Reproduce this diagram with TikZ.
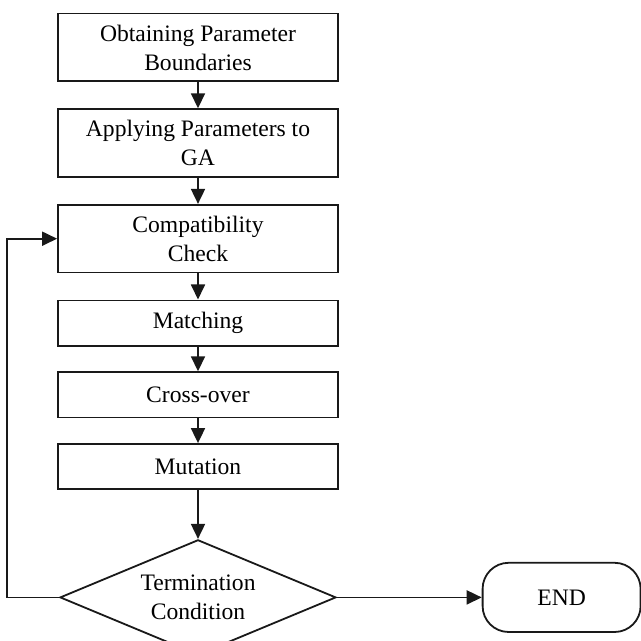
\documentclass[tikz,border=0pt]{standalone}
\usepackage{fontspec}
\setmainfont{Liberation Serif}
\usetikzlibrary{arrows.meta,positioning,shapes.geometric}

\begin{document}
\begin{tikzpicture}[
  node distance=13pt,
  stage/.style={draw=black!90,fill=white,rectangle,align=center,line width=0.9pt,
    minimum width=140pt,minimum height=33.9pt,inner sep=0pt,
    font=\fontsize{11.8}{14.5}\selectfont},
  short/.style={stage,minimum height=22.6pt},
  decision/.style={draw=black!90,fill=white,diamond,aspect=2.4,align=center,
    line width=0.9pt,minimum width=138pt,minimum height=57.6pt,inner sep=0pt,
    font=\fontsize{11.8}{14.5}\selectfont},
  terminal/.style={draw=black!90,fill=white,rectangle,rounded corners=13pt,
    line width=0.9pt,minimum width=79pt,minimum height=34.6pt,
    font=\fontsize{11.8}{14.5}\selectfont},
  arrow/.style={-{Triangle[length=7.5pt,width=7pt]},draw=black!90,line width=0.9pt}
]
  \useasboundingbox (0,0) rectangle (320.5pt,-320.5pt);
  \node[stage] (bounds) at (99pt,-23.75pt) {Obtaining Parameter\\Boundaries};
  \node[stage,below=of bounds] (apply) {Applying Parameters to\\GA};
  \node[stage,below=of apply] (compat) {Compatibility\\Check};
  \node[short,below=of compat] (match) {Matching};
  \node[short,below=12.4pt of match] (cross) {Cross-over};
  \node[short,below=12.4pt of cross] (mut) {Mutation};
  \node[decision,below=24.4pt of mut] (term) {Termination\\Condition};
  \node[terminal,right=72.4pt of term] (end) {END};
  \draw[arrow] (bounds) -- (apply);
  \draw[arrow] (apply) -- (compat);
  \draw[arrow] (compat) -- (match);
  \draw[arrow] (match) -- (cross);
  \draw[arrow] (cross) -- (mut);
  \draw[arrow] (mut) -- (term);
  \draw[arrow] (term) -- (end);
  \draw[arrow] (term.west) -- ++(-25.9pt,0) |- (compat.west);
\end{tikzpicture}
\end{document}
